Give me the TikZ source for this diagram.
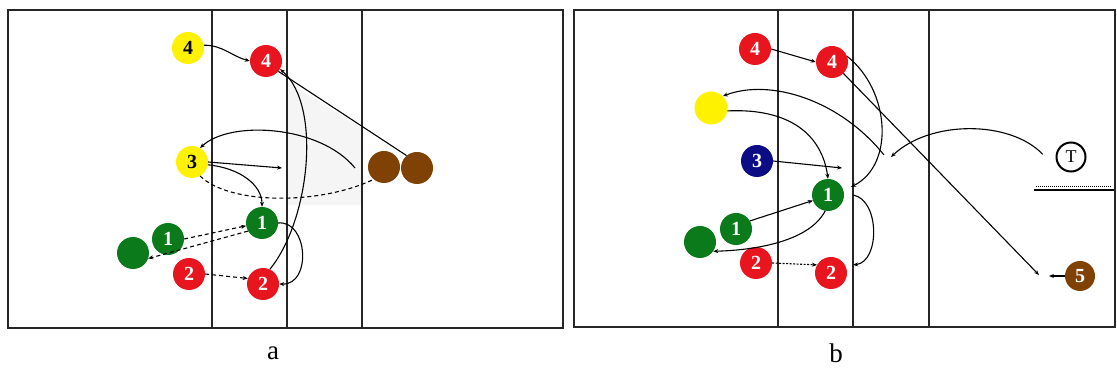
\documentclass[tikz,border=0pt]{standalone}
\usepackage{fontspec}
\setmainfont{Liberation Serif}
\usetikzlibrary{arrows.meta}
\definecolor{pred}{HTML}{E8141E}
\definecolor{pgreen}{HTML}{0B7A1A}
\definecolor{pyellow}{HTML}{FFF200}
\definecolor{pblue}{HTML}{0C0C84}
\definecolor{pbrown}{HTML}{7F4204}
\definecolor{paleshade}{HTML}{F5F5F5}
\tikzset{
  player/.style={circle, minimum size=32pt, inner sep=0pt, font=\bfseries\fontsize{20}{20}\selectfont},
  redp/.style={player, fill=pred, text=white},
  greenp/.style={player, fill=pgreen, text=white},
  yellowp/.style={player, fill=pyellow, text=black},
  bluep/.style={player, fill=pblue, text=white},
  brownp/.style={player, fill=pbrown, text=white},
  coachp/.style={circle, draw=black, line width=2pt, minimum size=29pt, inner sep=0pt, font=\fontsize{18}{18}\selectfont},
  court/.style={line width=1.8pt, draw=black!85},
  netline/.style={line width=2.8pt, draw=black!85},
  arr/.style={-{Stealth[length=5pt,width=4pt]}, line width=1.1pt},
  plainline/.style={line width=1.1pt},
  dashline/.style={line width=1.1pt, dash pattern=on 4pt off 3pt},
  dotline/.style={line width=1.1pt, dash pattern=on 2pt off 1.5pt},
  caption/.style={font=\fontsize{27}{27}\selectfont, inner sep=0pt}
}
\begin{document}
\begin{tikzpicture}[x=1pt,y=-1pt]
\useasboundingbox (0,0) rectangle (1117,387);
\fill[white] (0,0) rectangle (1117,387);
% ---------- panel a ----------
\fill[paleshade] (287,82) -- (362,128) -- (362,205) -- (287,205) -- cycle;
\draw[court] (8,10) rectangle (563,328);
\draw[court] (212,10) -- (212,328);
\draw[netline] (287,10) -- (287,328);
\draw[court] (362,10) -- (362,328);
% ---------- panel b ----------
\draw[court] (574,10) rectangle (1115,327);
\draw[court] (778,10) -- (778,327);
\draw[netline] (853,10) -- (853,327);
\draw[court] (929,10) -- (929,327);
% ---------- players a ----------
\node[yellowp] (y4L) at (188,48) {4};
\node[redp] (r4L) at (266,61) {4};
\node[yellowp] (y3L) at (192,162) {3};
\node[brownp] (brA) at (384,167) {};
\node[brownp] (brB) at (417,168) {};
\node[greenp] (g1aL) at (262,223) {1};
\node[greenp] (g1bL) at (168,239) {1};
\node[greenp] (gL) at (133,253) {};
\node[redp] (r2aL) at (189,274) {2};
\node[redp] (r2bL) at (263,284) {2};
\coordinate (endA) at (355,168);
\coordinate (endB) at (282,168);
% connectors a
\draw[arr] (y4L.10) to[out=0,in=165] (r4L.west);
\draw[plainline] (r4L.-40) -- (brB.130);
\draw[arr] (r2bL.65) .. controls (310,220) and (322,105) .. (r4L.-30);
\draw[arr] (endA) .. controls (320,125) and (230,120) .. (y3L.60);
\draw[arr] (y3L.east) -- (endB);
\draw[arr] (y3L.-10) .. controls (240,168) and (262,185) .. (g1aL.north);
\draw[dashline] (y3L.-60) .. controls (230,205) and (320,205) .. (brA.-130);
\draw[dashline,-{Stealth[length=5pt,width=4pt]}] (g1bL.east) -- (g1aL.-170);
\draw[dashline,-{Stealth[length=5pt,width=4pt]}] (g1aL.-150) -- (gL.-20);
\draw[dashline,-{Stealth[length=5pt,width=4pt]}] (r2aL.east) -- (r2bL.160);
\draw[arr] (g1aL.east) .. controls (308,220) and (312,285) .. (r2bL.east);
% ---------- players b ----------
\node[redp] (r4aR) at (755,49) {4};
\node[redp] (r4bR) at (832,62) {4};
\node[yellowp, minimum size=33pt] (yR) at (711,108) {};
\node[bluep] (b3R) at (757,161) {3};
\node[greenp] (g1aR) at (828,195) {1};
\node[greenp] (g1bR) at (736,229) {1};
\node[greenp] (gR) at (700,242) {};
\node[redp] (r2aR) at (756,263) {2};
\node[redp] (r2bR) at (831,273) {2};
\node[coachp] (TR) at (1071,157) {T};
\node[brownp, minimum size=30pt] (b5R) at (1080,276) {5};
\coordinate (c5) at (1039,275);
\coordinate (c5b) at (1049,276);
\coordinate (endY) at (884,155);
\coordinate (endT) at (891,157);
\coordinate (end3) at (842,168);
% connectors b
\draw[arr] (r4aR.east) -- (r4bR.west);
\draw[arr] (r4bR.-45) -- (c5);
\draw[arr] (b5R.west) -- (c5b);
\draw[arr] (r4bR.20) .. controls (890,90) and (895,165) .. ([xshift=9pt]g1aR.30);
\draw[arr] (endY) .. controls (840,100) and (770,78) .. (yR.45);
\draw[arr] (yR.-10) .. controls (790,108) and (822,135) .. (g1aR.north);
\draw[arr] (b3R.east) -- (end3);
\draw[arr] (g1bR.30) -- (g1aR.-160);
\draw[arr] (g1aR.-100) .. controls (810,240) and (760,250) .. (gR.-35);
\draw[dotline,-{Stealth[length=5pt,width=4pt]}] (r2aR.east) -- (r2bR.150);
\draw[arr] ([xshift=9pt]g1aR.east) .. controls (880,200) and (880,262) .. ([xshift=8pt]r2bR.30);
\draw[arr] ([xshift=-13pt]TR.170) .. controls (1010,120) and (930,120) .. (endT);
% ground line under T
\draw[line width=1.6pt] (1034,190) -- (1114,190);
\draw[line width=0.9pt, dash pattern=on 1pt off 1pt] (1036,186.6) -- (1112,186.6);
% captions
\node[caption] (capA) at (273,353) {a};
\node[caption] (capB) at (836,353) {b};
\end{tikzpicture}
\end{document}
